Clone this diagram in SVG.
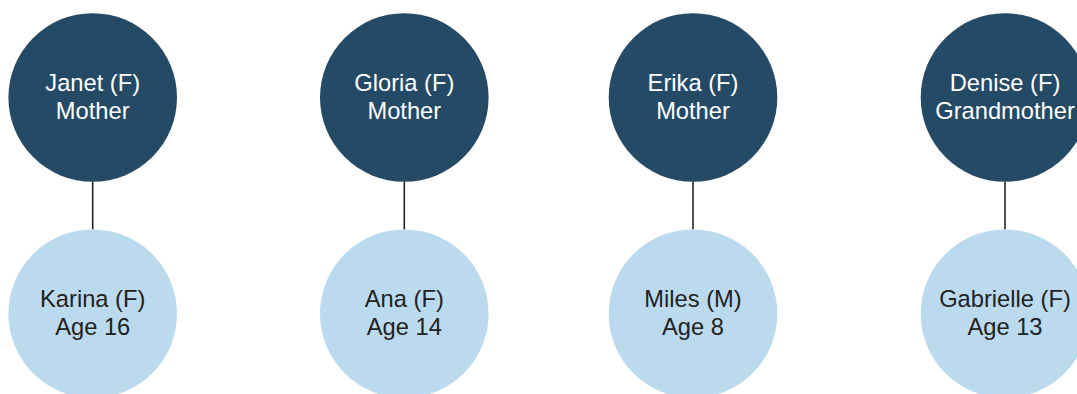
<svg xmlns="http://www.w3.org/2000/svg" width="1077" height="394" viewBox="0 0 1077 394">
<style>
.top{fill:#244a66}
.bot{fill:#bbdaee}
.t{font-family:"Liberation Sans",Arial,sans-serif;font-size:23.7px;text-anchor:middle}
.tw{fill:#ffffff}
.tk{fill:#222222}
.c{stroke:#222222;stroke-width:1.6;fill:none}
</style>
<rect width="1077" height="394" fill="#ffffff"/>
<g id="connectors">
<line class="c" x1="92.7" y1="181.5" x2="92.7" y2="229.5"/>
<line class="c" x1="404.3" y1="181.5" x2="404.3" y2="229.5"/>
<line class="c" x1="693" y1="181.5" x2="693" y2="229.5"/>
<line class="c" x1="1005" y1="181.5" x2="1005" y2="229.5"/>
</g>
<g id="janet"><circle class="top" cx="92.7" cy="97.5" r="84.3"/><text class="t tw" x="92.7" y="90.7">Janet (F)</text><text class="t tw" x="92.7" y="119">Mother</text></g>
<g id="karina"><circle class="bot" cx="92.7" cy="313.7" r="84.3"/><text class="t tk" x="92.7" y="306.7">Karina (F)</text><text class="t tk" x="92.7" y="335">Age 16</text></g>
<g id="gloria"><circle class="top" cx="404.3" cy="97.5" r="84.3"/><text class="t tw" x="404.3" y="90.7">Gloria (F)</text><text class="t tw" x="404.3" y="119">Mother</text></g>
<g id="ana"><circle class="bot" cx="404.3" cy="313.7" r="84.3"/><text class="t tk" x="404.3" y="306.7">Ana (F)</text><text class="t tk" x="404.3" y="335">Age 14</text></g>
<g id="erika"><circle class="top" cx="693" cy="97.5" r="84.3"/><text class="t tw" x="693" y="90.7">Erika (F)</text><text class="t tw" x="693" y="119">Mother</text></g>
<g id="miles"><circle class="bot" cx="693" cy="313.7" r="84.3"/><text class="t tk" x="693" y="306.7">Miles (M)</text><text class="t tk" x="693" y="335">Age 8</text></g>
<g id="denise"><circle class="top" cx="1005" cy="97.5" r="84.3"/><text class="t tw" x="1005" y="90.7">Denise (F)</text><text class="t tw" x="1005" y="119">Grandmother</text></g>
<g id="gabrielle"><circle class="bot" cx="1005" cy="313.7" r="84.3"/><text class="t tk" x="1005" y="306.7">Gabrielle (F)</text><text class="t tk" x="1005" y="335">Age 13</text></g>
</svg>
